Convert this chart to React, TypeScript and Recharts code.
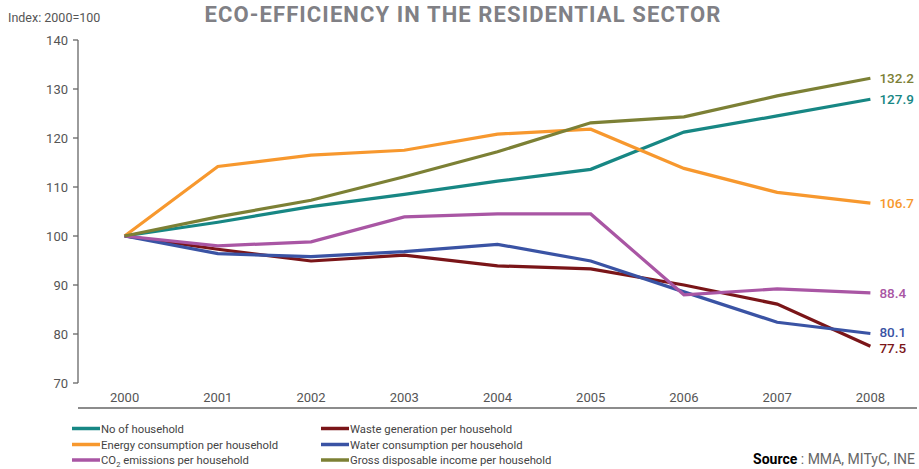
import React from 'react';
import { LineChart, Line, XAxis, YAxis, LabelList } from 'recharts';

const FONT = 'Roboto, "DejaVu Sans", sans-serif';

const years = ['2000', '2001', '2002', '2003', '2004', '2005', '2006', '2007', '2008'];
const yTicks = [70, 80, 90, 100, 110, 120, 130, 140];

const households = [100, 102.8, 106.0, 108.5, 111.2, 113.6, 121.2, 124.5, 127.9];
const waste = [100, 97.3, 94.9, 96.1, 93.9, 93.3, 90.0, 86.1, 77.5];
const energy = [100, 114.2, 116.5, 117.5, 120.8, 121.8, 113.8, 108.9, 106.7];
const water = [100, 96.4, 95.8, 96.8, 98.3, 94.9, 88.6, 82.4, 80.1];
const co2 = [100, 98.0, 98.8, 103.9, 104.5, 104.5, 88.0, 89.2, 88.4];
const income = [100, 103.9, 107.3, 112.1, 117.2, 123.1, 124.3, 128.6, 132.2];

const series = [
  { key: 'households', name: 'No of household', color: '#178784', values: households, labelDy: 0 },
  { key: 'waste', name: 'Waste generation per household', color: '#7a1518', values: waste, labelDy: 1.5 },
  { key: 'energy', name: 'Energy consumption per household', color: '#f7982e', values: energy, labelDy: 0 },
  { key: 'water', name: 'Water consumption per household', color: '#3a53a4', values: water, labelDy: -1.5 },
  { key: 'co2', name: 'CO2 emissions per household', color: '#a956a4', values: co2, labelDy: 0 },
  { key: 'income', name: 'Gross disposable income per household', color: '#7c8035', values: income, labelDy: 0 },
];

const data = years.map((year, i) => {
  const row: Record<string, number | string> = { x: i, year };
  series.forEach((s) => {
    row[s.key] = s.values[i];
  });
  return row;
});

const centerTicks = years.map((_, i) => i);
const boundaryTicks = [...years.map((_, i) => i - 0.5), years.length - 0.5];

const makeEndLabel = (color: string, dy: number) => (props: any) => {
  const { x, y, index, value } = props;
  if (index !== years.length - 1) return null;
  return (
    <text
      x={x + 9}
      y={y + dy}
      fill={color}
      fontSize={13.5}
      fontWeight={500}
      fontFamily={FONT}
      dominantBaseline="central"
    >
      {Number(value).toFixed(1)}
    </text>
  );
};

const legendLabel = (name: string) => {
  if (name.startsWith('CO2')) {
    return (
      <>
        CO<tspan fontSize={7.5} dy={3}>2</tspan>
        <tspan dy={-3}>{name.slice(3)}</tspan>
      </>
    );
  }
  return name;
};

export default function App() {
  const legendRows = [
    [series[0], series[1]],
    [series[2], series[3]],
    [series[4], series[5]],
  ];
  const colX = [72, 321];
  const rowBase = [432.5, 448.5, 464];
  return (
    <div style={{ position: 'absolute', left: 0, top: 0, width: 919, height: 469, background: '#fff' }}>
      <LineChart
        width={919}
        height={469}
        data={data}
        margin={{ top: 40, right: 2, bottom: 56, left: 8 }}
        style={{ fontFamily: FONT }}
      >
        <YAxis
          type="number"
          domain={[70, 140]}
          ticks={yTicks}
          width={70}
          tickSize={5}
          tickMargin={5}
          stroke="#666"
          strokeWidth={1.3}
          tick={{ fill: '#555', fontSize: 13, fontFamily: FONT }}
        />
        <XAxis
          xAxisId="marks"
          type="number"
          dataKey="x"
          domain={[-0.5, years.length - 0.5]}
          ticks={boundaryTicks}
          tick={false}
          tickSize={5}
          height={5}
          stroke="#666"
          strokeWidth={1.3}
        />
        <XAxis
          xAxisId="labels"
          type="number"
          dataKey="x"
          domain={[-0.5, years.length - 0.5]}
          ticks={centerTicks}
          axisLine={false}
          tickLine={false}
          tickSize={0}
          tickMargin={10}
          height={25}
          tickFormatter={(v: number) => years[v]}
          tick={{ fill: '#555', fontSize: 13, fontFamily: FONT }}
        />
        {series.map((s) => (
          <Line
            key={s.key}
            xAxisId="labels"
            type="linear"
            dataKey={s.key}
            name={s.name}
            stroke={s.color}
            strokeWidth={3.2}
            dot={false}
            activeDot={false}
            isAnimationActive={false}
          >
            <LabelList dataKey={s.key} content={makeEndLabel(s.color, s.labelDy)} />
          </Line>
        ))}
      </LineChart>
      <svg
        width={919}
        height={469}
        style={{ position: 'absolute', left: 0, top: 0, pointerEvents: 'none' }}
        fontFamily={FONT}
      >
        <text x={8} y={21.7} fontSize={12.5} fill="#555">Index: 2000=100</text>
        <text
          x={463}
          y={22.3}
          fontSize={22}
          fontWeight={700}
          fill="#808085"
          textAnchor="middle"
          letterSpacing={1.1}
        >
          ECO-EFFICIENCY IN THE RESIDENTIAL SECTOR
        </text>
        {legendRows.map((row, ri) =>
          row.map((s, ci) => (
            <g key={s.key}>
              <line
                x1={colX[ci]}
                x2={colX[ci] + 28}
                y1={rowBase[ri] - 4}
                y2={rowBase[ri] - 4}
                stroke={s.color}
                strokeWidth={3.5}
              />
              <text x={colX[ci] + 29} y={rowBase[ri]} fontSize={11.3} fill="#444">
                {legendLabel(s.name)}
              </text>
            </g>
          ))
        )}
        <text x={915} y={464} fontSize={14} textAnchor="end" fill="#666">
          <tspan fontWeight={700} fill="#000">Source</tspan> : MMA, MITyC, INE
        </text>
      </svg>
    </div>
  );
}
